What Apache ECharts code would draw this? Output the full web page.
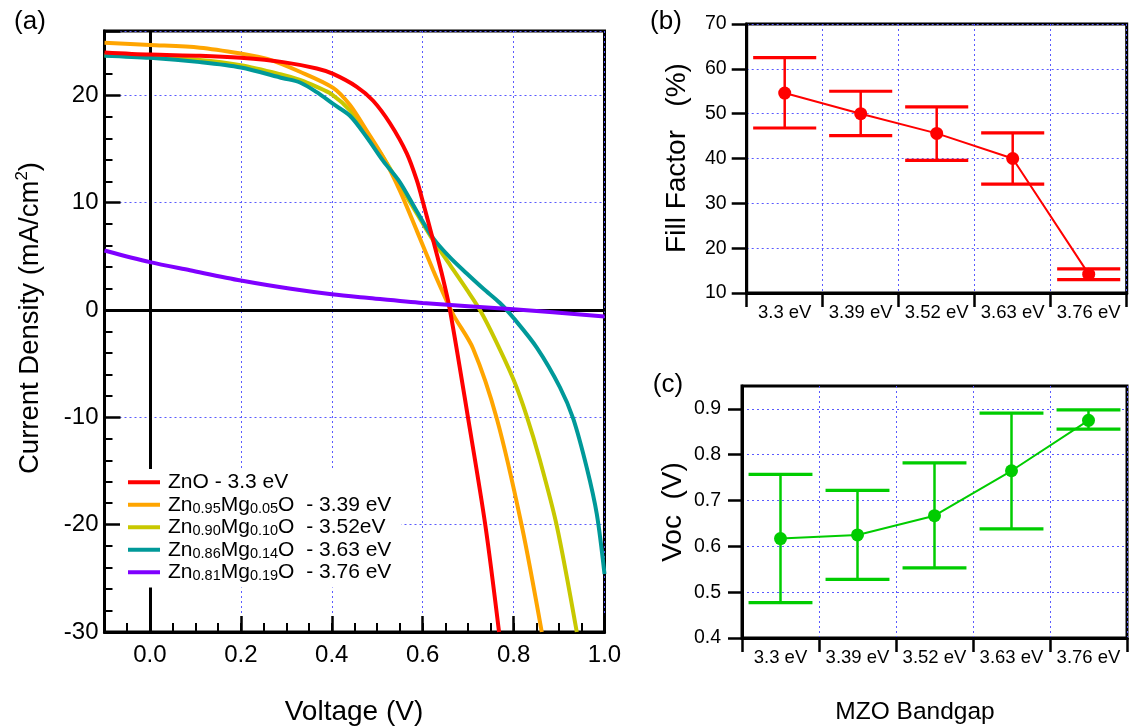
<!DOCTYPE html>
<html><head><meta charset="utf-8">
<script src="https://cdn.jsdelivr.net/npm/echarts@6/dist/echarts.min.js"></script>
<style>html,body{margin:0;padding:0;background:#fff}#c{width:1138px;height:727px}</style>
</head><body><div id="c"></div>
<script>
// ---------- Panel (a): J-V curves (voltage V, current density mA/cm^2) ----------
const znoV  = [-0.1, 0.0, 0.11, 0.2, 0.293, 0.367, 0.403, 0.455, 0.491, 0.528, 0.565, 0.587, 0.601, 0.623, 0.642, 0.66, 0.70, 0.738, 0.768];
const znoJ  = [24.0, 23.8, 23.7, 23.5, 23.1, 22.5, 22.0, 20.8, 19.5, 17.4, 14.6, 12.1, 10.0, 6.5, 3.4, 0.0, -10.1, -20.1, -30.0];
const mg05V = [-0.1, 0.0, 0.11, 0.2, 0.258, 0.33, 0.403, 0.44, 0.477, 0.513, 0.55, 0.587, 0.623, 0.648, 0.668, 0.711, 0.763, 0.818, 0.862];
const mg05J = [24.9, 24.7, 24.45, 23.9, 23.4, 22.2, 20.7, 19.1, 16.7, 14.25, 11.1, 7.4, 3.7, 1.3, -0.5, -3.6, -10.1, -20.1, -30.0];
const mg10V = [-0.1, 0.0, 0.11, 0.2, 0.293, 0.33, 0.367, 0.4, 0.44, 0.477, 0.513, 0.55, 0.587, 0.623, 0.66, 0.697, 0.726, 0.76, 0.80, 0.829, 0.858, 0.895, 0.939];
const mg10J = [23.75, 23.55, 23.3, 22.8, 21.9, 21.45, 20.8, 20.1, 18.6, 16.4, 14.25, 11.6, 9.0, 6.5, 4.2, 1.9, 0.0, -2.8, -6.5, -9.9, -14.0, -20.1, -30.0];
const mg14V = [-0.1, 0.0, 0.11, 0.2, 0.293, 0.33, 0.367, 0.403, 0.44, 0.477, 0.513, 0.55, 0.587, 0.623, 0.66, 0.697, 0.733, 0.77, 0.80, 0.851, 0.902, 0.931, 0.961, 0.983, 1.0];
const mg14J = [23.7, 23.5, 23.1, 22.6, 21.6, 21.2, 20.3, 19.2, 18.1, 16.1, 13.9, 11.9, 9.2, 6.7, 4.9, 3.4, 2.0, 0.65, -0.75, -3.5, -7.2, -10.1, -14.7, -19.0, -24.6];
const mg19V = [-0.1, 0.0, 0.088, 0.2, 0.31, 0.4, 0.477, 0.6, 0.8, 1.0];
const mg19J = [5.55, 4.46, 3.7, 2.75, 1.98, 1.47, 1.14, 0.65, 0.08, -0.6];

const seriesNames  = ['ZnO', 'Mg0.05', 'Mg0.10', 'Mg0.14', 'Mg0.19'];
const legendLabels = [
  'ZnO - 3.3 eV',
  'Zn{s|0.95}Mg{s|0.05}O  - 3.39 eV',
  'Zn{s|0.90}Mg{s|0.10}O  - 3.52eV',
  'Zn{s|0.86}Mg{s|0.14}O  - 3.63 eV',
  'Zn{s|0.81}Mg{s|0.19}O  - 3.76 eV'
];
const voltTicks = [0.0, 0.2, 0.4, 0.6, 0.8, 1.0];

// ---------- Panels (b) and (c) ----------
const bandgaps = ['3.3 eV', '3.39 eV', '3.52 eV', '3.63 eV', '3.76 eV'];
const ffMean  = [54.6, 50.0, 45.6, 40.0, 14.2];
const ffHigh  = [62.5, 55.0, 51.5, 45.7, 15.4];
const ffLow   = [46.8, 45.1, 39.6, 34.3, 13.0];
const vocMean = [0.617, 0.625, 0.667, 0.765, 0.875];
const vocHigh = [0.757, 0.722, 0.782, 0.891, 0.898];
const vocLow  = [0.477, 0.528, 0.553, 0.638, 0.856];
const vocTicks = [0.4, 0.5, 0.6, 0.7, 0.8, 0.9];

// ---------- styling ----------
const FONT = "'Liberation Sans', Arial, Helvetica, sans-serif";
const GRIDLINE = {show: true, lineStyle: {color: '#5a5aff', width: 1, type: [2, 3]}};
const colorMap = {'ZnO': '#ff0000', 'Mg0.05': '#ffa500', 'Mg0.10': '#c8c800', 'Mg0.14': '#009999', 'Mg0.19': '#7f00ff'};
const curveData = {
  'ZnO': [znoV, znoJ], 'Mg0.05': [mg05V, mg05J], 'Mg0.10': [mg10V, mg10J],
  'Mg0.14': [mg14V, mg14J], 'Mg0.19': [mg19V, mg19J]
};
const drawOrder = ['Mg0.10', 'Mg0.05', 'Mg0.14', 'ZnO', 'Mg0.19'];

function jvSeries(name, idx) {
  const [v, j] = curveData[name];
  const s = {
    name: name, type: 'line', xAxisIndex: 0, yAxisIndex: 0,
    data: v.map((x, i) => [x, j[i]]),
    showSymbol: false, smooth: 0.3,
    lineStyle: {color: colorMap[name], width: 4}, itemStyle: {color: colorMap[name]},
    emphasis: {disabled: true}, silent: true, clip: true
  };
  if (idx === 0) {
    s.markLine = {
      silent: true, symbol: 'none', z: 1, animation: false,
      label: {show: false}, emphasis: {disabled: true},
      lineStyle: {color: '#000', width: 3, type: 'solid'},
      data: [{xAxis: 0}, {yAxis: 0}]
    };
  }
  return s;
}

function errorBars(high, low, color, xIdx, yIdx) {
  return {
    type: 'custom', xAxisIndex: xIdx, yAxisIndex: yIdx, silent: true,
    data: high.map((h, i) => [i, h, low[i]]),
    encode: {x: 0, y: [1, 2]},
    renderItem: function (params, api) {
      const x = api.value(0);
      const hi = api.coord([x, api.value(1)]);
      const lo = api.coord([x, api.value(2)]);
      const half = api.size([1, 0])[0] * 0.415;
      const cap = {stroke: color, lineWidth: 3.2};
      return {type: 'group', children: [
        {type: 'line', shape: {x1: hi[0], y1: hi[1], x2: lo[0], y2: lo[1]}, style: {stroke: color, lineWidth: 2.5}},
        {type: 'line', shape: {x1: hi[0] - half, y1: hi[1], x2: hi[0] + half, y2: hi[1]}, style: cap},
        {type: 'line', shape: {x1: lo[0] - half, y1: lo[1], x2: lo[0] + half, y2: lo[1]}, style: cap}
      ]};
    }
  };
}

const chart = echarts.init(document.getElementById('c'), null, {renderer: 'canvas'});
const option = {
  animation: false,
  backgroundColor: '#fff',
  textStyle: {fontFamily: FONT, color: '#000'},
  grid: [
    {left: 104.5, top: 31, width: 500, height: 601, show: true, borderColor: '#000', borderWidth: 3, containLabel: false},
    {left: 746.7, top: 24, width: 380, height: 269, show: true, borderColor: '#000', borderWidth: 3, containLabel: false},
    {left: 742, top: 386, width: 385, height: 252, show: true, borderColor: '#000', borderWidth: 3, containLabel: false}
  ],
  xAxis: [
    {type: 'value', gridIndex: 0, min: -0.1, max: 1.0, interval: 0.05,
     axisLine: {show: true, onZero: false, lineStyle: {color: '#000', width: 3}},
     axisTick: {show: true, inside: true, length: 9, lineStyle: {color: '#000', width: 2}},
     axisLabel: {show: false}, splitLine: {show: false}},
    {type: 'value', gridIndex: 0, min: -0.1, max: 1.0, position: 'bottom',
     axisLine: {show: false, onZero: false},
     axisTick: {show: true, inside: true, length: 16, customValues: voltTicks, lineStyle: {color: '#000', width: 2.5}},
     axisLabel: {show: true, customValues: voltTicks, fontSize: 24, fontFamily: FONT, color: '#000', margin: 11,
                 formatter: v => v.toFixed(1)},
     splitLine: GRIDLINE},
    {type: 'category', gridIndex: 1, data: bandgaps, boundaryGap: true,
     axisLine: {show: true, onZero: false, lineStyle: {color: '#000', width: 3}},
     axisTick: {show: true, inside: false, length: 14, alignWithLabel: false, interval: 0, lineStyle: {color: '#000', width: 2.5}},
     axisLabel: {fontSize: 18.5, fontFamily: FONT, color: '#000', margin: 10, interval: 0, hideOverlap: false},
     splitLine: Object.assign({interval: 0}, GRIDLINE)},
    {type: 'category', gridIndex: 2, data: bandgaps, boundaryGap: true,
     axisLine: {show: true, onZero: false, lineStyle: {color: '#000', width: 3}},
     axisTick: {show: true, inside: false, length: 14, alignWithLabel: false, interval: 0, lineStyle: {color: '#000', width: 2.5}},
     axisLabel: {fontSize: 18.5, fontFamily: FONT, color: '#000', margin: 10, interval: 0, hideOverlap: false},
     splitLine: Object.assign({interval: 0}, GRIDLINE)}
  ],
  yAxis: [
    {type: 'value', gridIndex: 0, min: -30, max: 26, interval: 10,
     axisLine: {show: true, onZero: false, lineStyle: {color: '#000', width: 3}},
     axisTick: {show: true, inside: true, length: 16, lineStyle: {color: '#000', width: 2.5}},
     minorTick: {show: true, splitNumber: 5, length: 8, lineStyle: {color: '#000', width: 2}},
     axisLabel: {fontSize: 24, fontFamily: FONT, color: '#000', margin: 6, showMaxLabel: false,
                 formatter: v => (v > 25 ? '' : String(v))},
     splitLine: GRIDLINE},
    {type: 'value', gridIndex: 1, min: 10, max: 70, interval: 10,
     axisLine: {show: true, onZero: false, lineStyle: {color: '#000', width: 3}},
     axisTick: {show: true, inside: false, length: 15, lineStyle: {color: '#000', width: 2.5}},
     axisLabel: {fontSize: 19.5, fontFamily: FONT, color: '#000', margin: 20},
     splitLine: GRIDLINE},
    {type: 'value', gridIndex: 2, min: 0.4, max: 0.95, interval: 0.1,
     axisLine: {show: true, onZero: false, lineStyle: {color: '#000', width: 3}},
     axisTick: {show: true, inside: false, length: 14, customValues: vocTicks, lineStyle: {color: '#000', width: 2.5}},
     axisLabel: {fontSize: 19.5, fontFamily: FONT, color: '#000', margin: 21, customValues: vocTicks,
                 formatter: v => v.toFixed(1)},
     splitLine: GRIDLINE}
  ],
  legend: {
    data: seriesNames, orient: 'vertical', left: 120, top: 469,
    itemWidth: 32, itemHeight: 4, itemGap: 0, icon: 'rect',
    backgroundColor: '#fff', padding: [2, 10, 4, 8], selectedMode: false,
    formatter: name => legendLabels[seriesNames.indexOf(name)],
    textStyle: {fontSize: 21, fontFamily: FONT, color: '#000', lineHeight: 22.5, padding: [0, 0, 0, 3],
                rich: {s: {fontSize: 14.5, fontFamily: FONT, color: '#000', lineHeight: 6, verticalAlign: 'bottom'}}}
  },
  series: drawOrder.map((n, i) => jvSeries(n, i)).concat([
    errorBars(ffHigh, ffLow, '#ff0000', 2, 1),
    {type: 'line', xAxisIndex: 2, yAxisIndex: 1, data: ffMean, symbol: 'circle', symbolSize: 13,
     lineStyle: {color: '#ff0000', width: 2}, itemStyle: {color: '#ff0000'}, silent: true, emphasis: {disabled: true}},
    errorBars(vocHigh, vocLow, '#00cc00', 3, 2),
    {type: 'line', xAxisIndex: 3, yAxisIndex: 2, data: vocMean, symbol: 'circle', symbolSize: 13,
     lineStyle: {color: '#00cc00', width: 2}, itemStyle: {color: '#00cc00'}, silent: true, emphasis: {disabled: true}}
  ]),
  graphic: [
    {type: 'text', x: 30, y: 22, style: {text: '(a)', fontSize: 26, fontFamily: FONT, fill: '#000', align: 'center', verticalAlign: 'middle'}},
    {type: 'text', x: 666, y: 22, style: {text: '(b)', fontSize: 26, fontFamily: FONT, fill: '#000', align: 'center', verticalAlign: 'middle'}},
    {type: 'text', x: 668, y: 385, style: {text: '(c)', fontSize: 26, fontFamily: FONT, fill: '#000', align: 'center', verticalAlign: 'middle'}},
    {type: 'text', x: 354, y: 712, style: {text: 'Voltage (V)', fontSize: 28, fontFamily: FONT, fill: '#000', align: 'center', verticalAlign: 'middle'}},
    {type: 'text', x: 915, y: 712, style: {text: 'MZO Bandgap', fontSize: 24.5, fontFamily: FONT, fill: '#000', align: 'center', verticalAlign: 'middle'}},
    {type: 'text', x: 30, y: 318, rotation: Math.PI / 2,
     style: {text: 'Current Density (mA/cm{sup|2})', fontSize: 27.5, fontFamily: FONT, fill: '#000', align: 'center', verticalAlign: 'middle', lineHeight: 32,
             rich: {sup: {fontSize: 17, fontFamily: FONT, fill: '#000', lineHeight: 12, verticalAlign: 'top'}}}},
    {type: 'text', x: 677, y: 158, rotation: Math.PI / 2,
     style: {text: 'Fill Factor   (%)', fontSize: 28, fontFamily: FONT, fill: '#000', align: 'center', verticalAlign: 'middle'}},
    {type: 'text', x: 673, y: 512, rotation: Math.PI / 2,
     style: {text: 'Voc  (V)', fontSize: 28, fontFamily: FONT, fill: '#000', align: 'center', verticalAlign: 'middle'}}
  ]
};
chart.setOption(option);
</script>
</body></html>
